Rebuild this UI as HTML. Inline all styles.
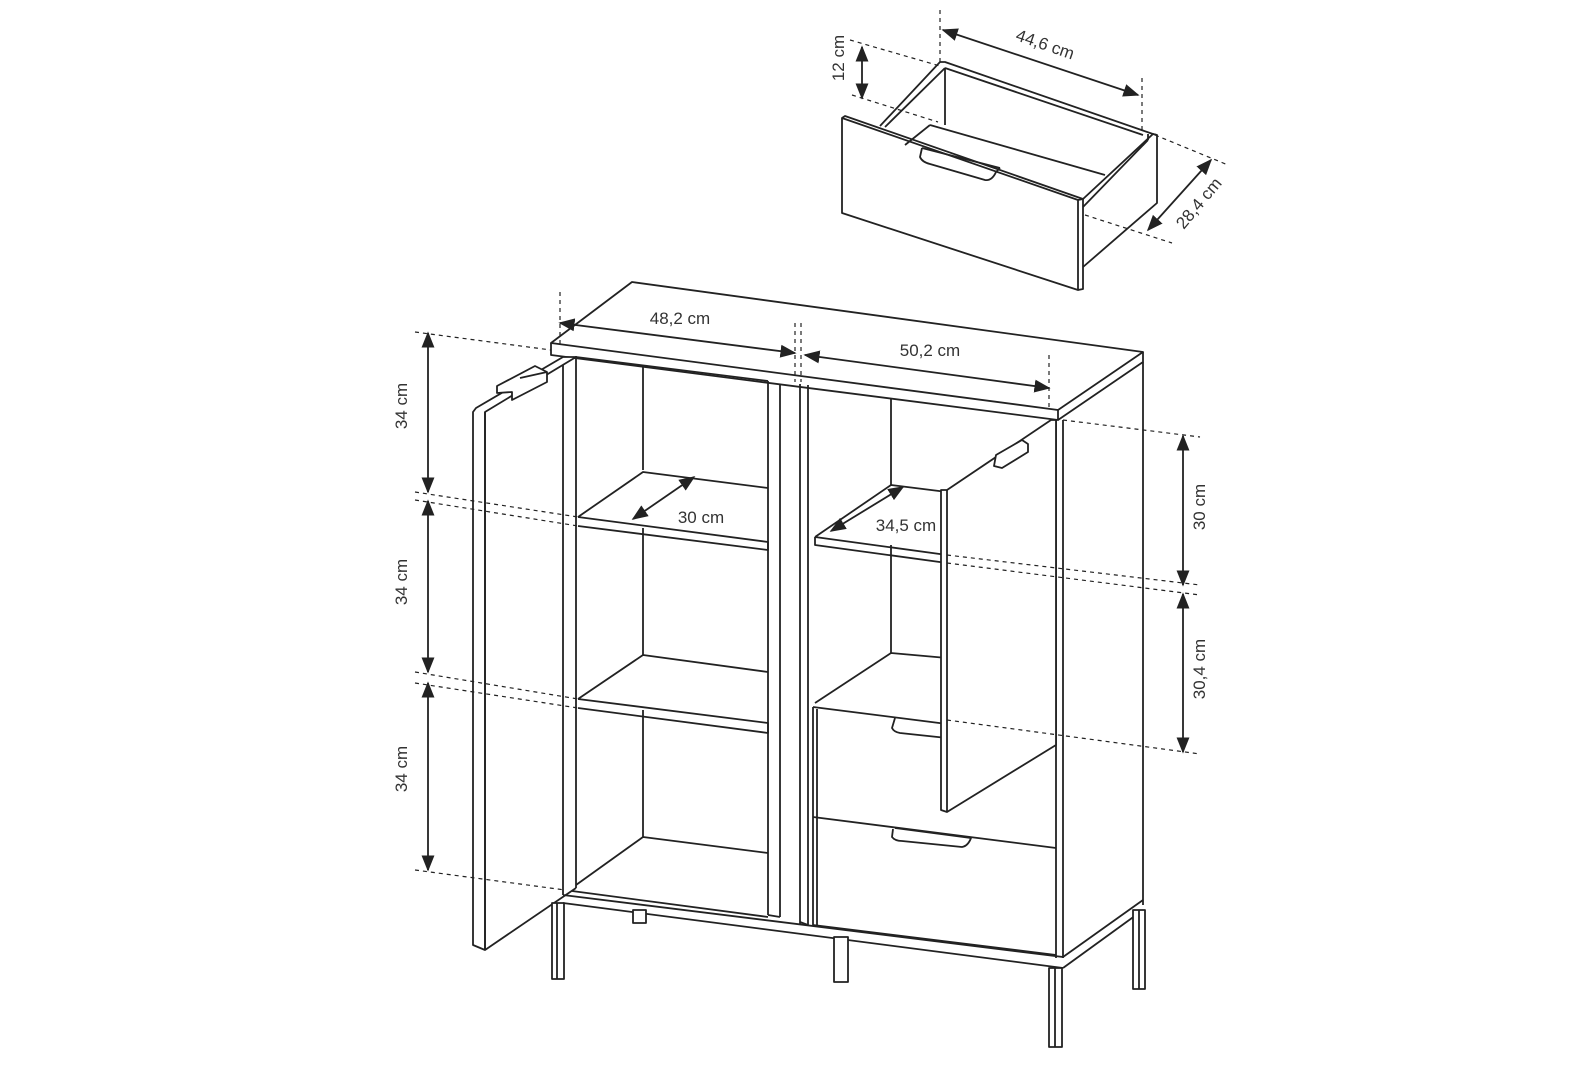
<!DOCTYPE html>
<html><head><meta charset="utf-8"><style>
html,body{margin:0;padding:0;background:#fff;}
svg{display:block;}
text{font-family:"Liberation Sans",sans-serif;font-size:17px;fill:#333;}
</style></head><body>
<svg width="1577" height="1080" viewBox="0 0 1577 1080" xmlns="http://www.w3.org/2000/svg">
<defs>
<marker id="a" viewBox="0 0 10 10" refX="9" refY="5" markerWidth="9" markerHeight="9" orient="auto-start-reverse"><path d="M0,1 L10,5 L0,9 z" fill="#222"/></marker>
</defs>
<g fill="none" stroke="#222" stroke-width="1.8" stroke-linejoin="round">
<!-- DRAWER -->
<polygon points="842,118 1078,200 1078,290 842,213" fill="#fff"/>
<polyline points="842,118 845,116 1083,199 1083,289 1078,290"/>
<line x1="1078" y1="200" x2="1083" y2="199"/>
<polyline points="880,126 940,62 945,62 1153,134 1157,135"/>
<line x1="885" y1="127" x2="945" y2="68"/>
<line x1="945" y1="68" x2="1143" y2="135"/>
<line x1="945" y1="68" x2="945" y2="125"/>
<polyline points="1083,199 1153,134 1157,135 1157,203 1083,267"/>
<line x1="1083" y1="207" x2="1148" y2="140"/>
<line x1="1148" y1="134" x2="1148" y2="140"/>
<line x1="930" y1="125" x2="1105" y2="175"/>
<line x1="930" y1="125" x2="905" y2="145"/>
<path d="M922,148 L920,157 Q922,162 930,164 L985,180 Q992,181 996,172 L1000,168"/>
<path d="M922,148 L1000,168"/>
<!-- drawer dims -->
<g stroke-dasharray="4,4" stroke-width="1.2">
<line x1="940" y1="10" x2="940" y2="62"/>
<line x1="1142" y1="78" x2="1142" y2="130"/>
<line x1="850" y1="40" x2="940" y2="66"/>
<line x1="852" y1="95" x2="938" y2="122"/>
<line x1="1155" y1="135" x2="1228" y2="165"/>
<line x1="1085" y1="215" x2="1172" y2="243"/>
</g>
<line x1="943" y1="30" x2="1138" y2="95" marker-start="url(#a)" marker-end="url(#a)"/>
<line x1="862" y1="47" x2="862" y2="98" marker-start="url(#a)" marker-end="url(#a)"/>
<line x1="1211" y1="160" x2="1148" y2="230" marker-start="url(#a)" marker-end="url(#a)"/>

<!-- CABINET TOP -->
<polygon points="551,343 632,282 1143,352 1058,410" fill="#fff"/>
<polyline points="551,343 551,355 1058,420 1058,410"/>
<polyline points="1058,420 1143,362 1143,352"/>
<!-- right side -->
<line x1="1143" y1="362" x2="1143" y2="905"/>
<line x1="1056" y1="420" x2="1056" y2="958"/>
<line x1="1063" y1="420" x2="1063" y2="958"/>
<!-- left side panel -->
<line x1="563" y1="357" x2="563" y2="895"/>
<line x1="576" y1="356" x2="576" y2="888"/>
<!-- left door -->
<polygon points="473,412 476,408 563,357 576,357 485,412 485,950 473,945" fill="#fff"/>
<line x1="485" y1="412" x2="485" y2="950"/>
<polyline points="485,950 576,888"/>
<path d="M497,386 L535,366 L547,372 L547,382 L512,400 L512,392 L497,393 Z" fill="#fff"/>
<line x1="520" y1="378" x2="547" y2="372"/>
<!-- left compartment -->
<line x1="643" y1="365" x2="643" y2="470"/>
<line x1="643" y1="528" x2="643" y2="655"/>
<line x1="643" y1="710" x2="643" y2="837"/>
<line x1="576" y1="357" x2="768" y2="381"/>
<!-- shelf 1 -->
<polyline points="578,517 643,472 768,488"/>
<polyline points="578,517 768,542 768,550 578,526"/>
<!-- shelf 2 -->
<polyline points="578,699 643,655 768,672"/>
<polyline points="578,699 768,723 768,733 578,708"/>
<!-- bottom -->
<polyline points="576,885 643,837 768,853"/>
<line x1="572" y1="891" x2="768" y2="917"/>
<!-- divider -->
<line x1="768" y1="381" x2="768" y2="915"/>
<line x1="780" y1="385" x2="780" y2="917"/>
<line x1="768" y1="915" x2="780" y2="917"/>
<line x1="800" y1="384" x2="800" y2="925"/>
<line x1="808" y1="385" x2="808" y2="925"/>
<line x1="800" y1="922" x2="808" y2="925"/>
<!-- right compartment -->
<line x1="891" y1="398" x2="891" y2="485"/>
<line x1="891" y1="545" x2="891" y2="653"/>
<polyline points="815,537 891,485 947,492"/>
<polyline points="815,537 947,555 947,563 815,545 815,537"/>
<polyline points="815,703 891,653 947,658"/>
<line x1="813" y1="707" x2="947" y2="724"/>
<line x1="813" y1="707" x2="813" y2="925"/>
<line x1="817" y1="709" x2="817" y2="925"/>
<line x1="813" y1="817" x2="1056" y2="848"/>
<line x1="813" y1="925" x2="1056" y2="955"/>
<path d="M895,718 L892,728 Q894,732 900,733 L947,738"/>
<path d="M893,829 L892,837 Q895,841 902,841 L962,847 Q968,846 971,838 L895,828"/>
<!-- right door -->
<polygon points="941,490 947,490 1051,420 1056,420 1056,745 947,812 941,810" fill="#fff"/>
<line x1="947" y1="490" x2="947" y2="812"/>
<path d="M996,455 L1022,440 L1028,444 L1028,452 L1002,468 L994,466 Z" fill="#fff"/>
<!-- base frame -->
<line x1="563" y1="895" x2="1063" y2="957"/>
<line x1="563" y1="903" x2="1063" y2="968"/>
<polyline points="1063,957 1143,900"/>
<polyline points="1063,968 1143,910"/>
<!-- legs -->
<rect x="552" y="903" width="12" height="76" fill="#fff"/>
<line x1="557" y1="903" x2="557" y2="979"/>
<rect x="834" y="937" width="14" height="45" fill="#fff"/>
<rect x="633" y="910" width="13" height="13" fill="#fff"/>
<rect x="1049" y="968" width="13" height="79" fill="#fff"/>
<line x1="1055" y1="968" x2="1055" y2="1047"/>
<rect x="1133" y="910" width="12" height="79" fill="#fff"/>
<line x1="1139" y1="910" x2="1139" y2="989"/>

<!-- dims dashed -->
<g stroke-dasharray="4,4" stroke-width="1.2">
<line x1="560" y1="292" x2="560" y2="345"/>
<line x1="795" y1="323" x2="795" y2="382"/>
<line x1="801" y1="323" x2="801" y2="382"/>
<line x1="1049" y1="355" x2="1049" y2="410"/>
<line x1="415" y1="332" x2="551" y2="350"/>
<line x1="415" y1="492" x2="578" y2="517"/>
<line x1="415" y1="500" x2="578" y2="526"/>
<line x1="415" y1="672" x2="578" y2="699"/>
<line x1="415" y1="683" x2="578" y2="708"/>
<line x1="415" y1="870" x2="565" y2="890"/>
<line x1="1063" y1="420" x2="1200" y2="437"/>
<line x1="947" y1="555" x2="1200" y2="585"/>
<line x1="947" y1="563" x2="1200" y2="595"/>
<line x1="947" y1="720" x2="1200" y2="754"/>
</g>
<line x1="560" y1="323" x2="795" y2="353" marker-start="url(#a)" marker-end="url(#a)"/>
<line x1="805" y1="355" x2="1049" y2="388" marker-start="url(#a)" marker-end="url(#a)"/>
<line x1="428" y1="333" x2="428" y2="492" marker-start="url(#a)" marker-end="url(#a)"/>
<line x1="428" y1="501" x2="428" y2="672" marker-start="url(#a)" marker-end="url(#a)"/>
<line x1="428" y1="683" x2="428" y2="870" marker-start="url(#a)" marker-end="url(#a)"/>
<line x1="1183" y1="436" x2="1183" y2="585" marker-start="url(#a)" marker-end="url(#a)"/>
<line x1="1183" y1="594" x2="1183" y2="752" marker-start="url(#a)" marker-end="url(#a)"/>
<line x1="633" y1="519" x2="694" y2="477" marker-start="url(#a)" marker-end="url(#a)"/>
<line x1="831" y1="531" x2="903" y2="487" marker-start="url(#a)" marker-end="url(#a)"/>
</g>
<text x="1045" y="50" text-anchor="middle" transform="rotate(19 1045 45)">44,6 cm</text>
<text x="844" y="58" text-anchor="middle" transform="rotate(-90 844 58)">12 cm</text>
<text x="1200" y="212" text-anchor="middle" transform="rotate(-50 1196 206)">28,4 cm</text>
<text x="680" y="324" text-anchor="middle">48,2 cm</text>
<text x="930" y="356" text-anchor="middle">50,2 cm</text>
<text x="701" y="523" text-anchor="middle">30 cm</text>
<text x="906" y="531" text-anchor="middle">34,5 cm</text>
<text x="413" y="412" text-anchor="middle" transform="rotate(-90 407 412)">34 cm</text>
<text x="413" y="588" text-anchor="middle" transform="rotate(-90 407 588)">34 cm</text>
<text x="413" y="775" text-anchor="middle" transform="rotate(-90 407 775)">34 cm</text>
<text x="1211" y="513" text-anchor="middle" transform="rotate(-90 1205 513)">30 cm</text>
<text x="1211" y="675" text-anchor="middle" transform="rotate(-90 1205 675)">30,4 cm</text>
</svg>
</body></html>
